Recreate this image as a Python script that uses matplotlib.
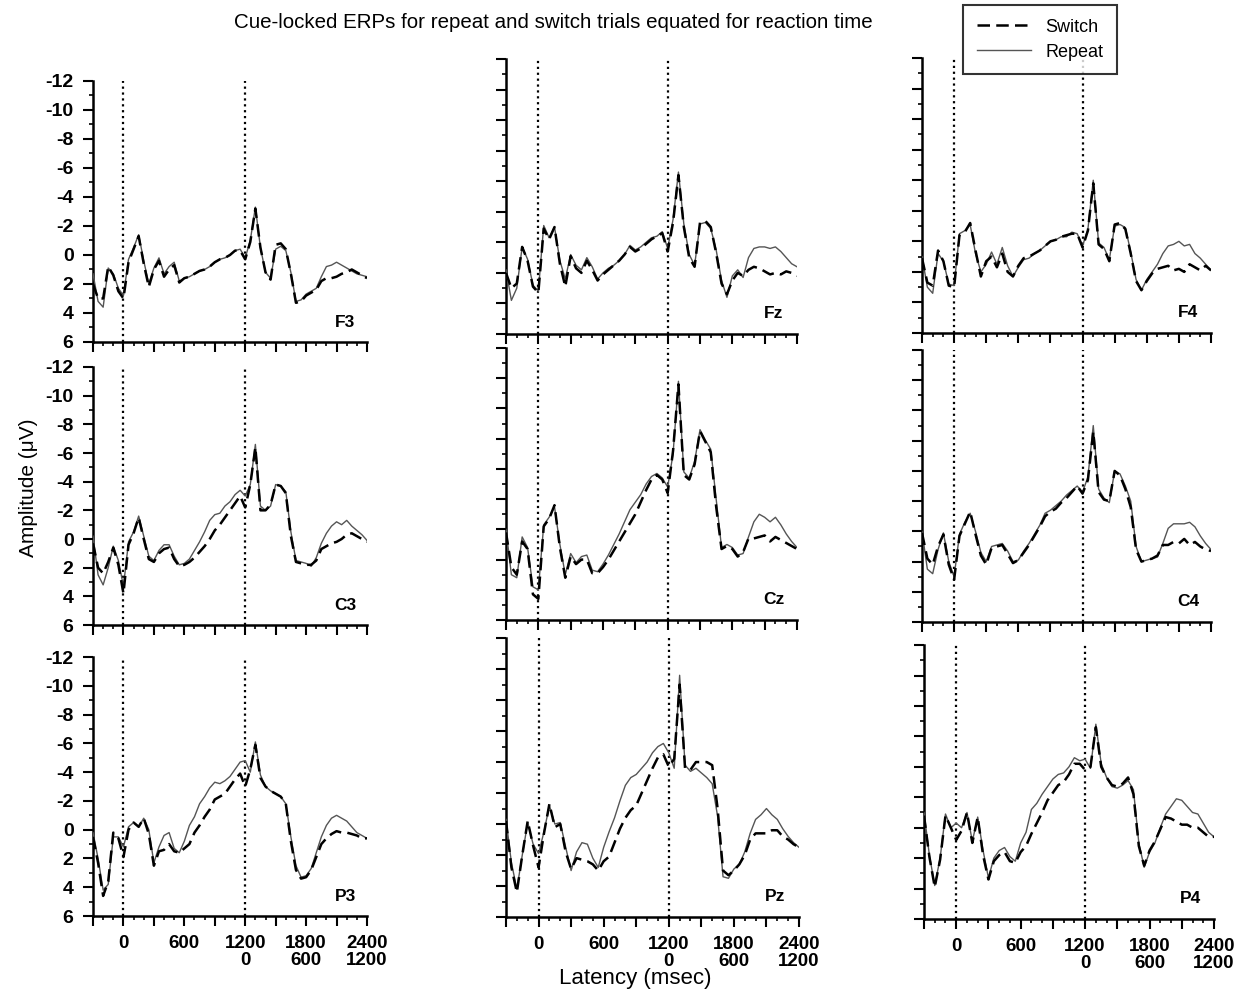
import numpy as np
import matplotlib
matplotlib.use("Agg")
import matplotlib.pyplot as plt
from matplotlib.ticker import FixedLocator, MultipleLocator
from matplotlib.lines import Line2D

plt.rcParams["font.family"] = ["Liberation Sans", "DejaVu Sans"]
plt.rcParams["axes.unicode_minus"] = False

# latency grid (ms), cue at 0, target at 1200
time_ms = list(range(-300, 2401, 50))

# amplitudes in microvolts (negative up)
repeat_F3 = [1.3, 3.2, 3.6, 0.9, 1.3, 2.3, 2.8, 0.3, -0.5, -1.4, 0.4, 2.0, 0.9, 0.2, 1.3, 0.8, 0.5, 1.8, 1.6,
             1.5, 1.3, 1.1, 1.0, 0.8, 0.5, 0.3, 0.2, 0.0, -0.3, -0.4, 0.2, -1.0, -3.3, -0.5, 1.2, 1.6, -0.4, -0.6,
             -0.3, 1.2, 3.2, 3.1, 2.7, 2.5, 2.3, 1.5, 0.8, 0.7, 0.5, 0.7, 0.9, 1.1, 1.3, 1.4, 1.5]
switch_F3 = [2.0, 3.0, 3.0, 0.8, 1.4, 2.5, 3.0, 0.5, -0.4, -1.3, 0.6, 2.2, 1.0, 0.4, 1.5, 1.0, 0.7, 1.9, 1.6,
             1.5, 1.3, 1.1, 1.0, 0.8, 0.5, 0.3, 0.2, 0.0, -0.3, -0.3, 0.3, -0.9, -3.2, -0.5, 1.2, 1.7, -0.7, -0.8,
             -0.4, 1.3, 3.3, 3.2, 2.8, 2.6, 2.4, 1.8, 1.6, 1.6, 1.5, 1.3, 1.2, 1.0, 1.2, 1.4, 1.6]
repeat_Fz = [1.8, 3.8, 3.0, 0.3, 1.1, 2.8, 3.2, -1.1, -0.3, -1.0, 1.2, 2.4, 0.8, 1.5, 1.8, 1.0, 1.6, 2.4, 2.0,
             1.7, 1.5, 1.2, 0.8, 0.2, 0.5, 0.3, 0.0, -0.3, -0.4, -0.7, 0.4, -1.5, -4.6, -1.2, 0.8, 1.5, -1.2, -1.3,
             -0.9, 0.5, 2.5, 3.6, 2.2, 1.8, 2.3, 1.0, 0.4, 0.3, 0.3, 0.4, 0.3, 0.6, 1.0, 1.4, 1.6]
switch_Fz = [2.0, 3.0, 2.7, 0.3, 1.2, 2.9, 3.3, -0.9, -0.2, -1.0, 1.4, 2.9, 0.9, 1.7, 2.0, 1.2, 1.8, 2.5, 2.1,
             1.8, 1.5, 1.2, 0.8, 0.3, 0.6, 0.4, 0.1, -0.2, -0.4, -0.6, 0.6, -1.3, -4.4, -1.0, 1.0, 1.6, -1.3, -1.4,
             -1.0, 0.7, 2.7, 3.4, 2.5, 2.0, 2.2, 1.8, 1.6, 1.7, 1.9, 2.1, 2.0, 2.1, 1.9, 2.0, 2.2]
repeat_F4 = [1.0, 3.0, 3.4, 0.8, 1.3, 2.8, 2.9, -0.5, -0.7, -1.1, 0.8, 2.0, 1.5, 0.7, 1.5, 0.4, 1.6, 2.3, 1.7,
             1.2, 1.1, 0.8, 0.6, 0.3, 0.0, -0.1, -0.3, -0.3, -0.6, -0.5, 0.3, -0.8, -4.0, 0.1, 0.4, 1.2, -1.0, -1.1,
             -0.9, 0.7, 2.5, 3.2, 2.5, 2.0, 1.5, 0.8, 0.3, 0.2, 0.0, 0.3, 0.2, 0.8, 1.1, 1.5, 1.9]
switch_F4 = [1.1, 2.7, 2.9, 0.6, 1.3, 2.9, 3.0, -0.4, -0.6, -1.2, 0.6, 2.3, 1.3, 1.0, 1.7, 0.8, 2.0, 2.3, 1.6,
             1.1, 1.0, 0.8, 0.6, 0.3, 0.0, -0.1, -0.3, -0.4, -0.5, -0.5, 0.4, -0.7, -3.8, 0.2, 0.5, 1.3, -1.1, -1.2,
             -0.8, 0.8, 2.6, 3.2, 2.6, 2.1, 1.8, 1.7, 1.6, 1.9, 1.8, 2.0, 1.5, 1.7, 1.9, 1.6, 1.9]
repeat_C3 = [-0.2, 2.5, 3.2, 2.0, 0.5, 1.5, 3.3, 0.2, -0.5, -1.6, -0.2, 1.2, 1.5, 0.8, 0.4, 0.4, 1.2, 1.8, 1.7,
             1.4, 0.8, 0.2, -0.5, -1.3, -1.7, -1.8, -2.3, -2.6, -3.1, -3.4, -3.0, -3.8, -6.6, -2.3, -2.0, -2.3, -3.8,
             -3.7, -3.3, -0.5, 1.5, 1.6, 1.7, 1.9, 1.3, 0.3, -0.4, -0.9, -1.2, -1.0, -1.3, -0.9, -0.6, -0.3, 0.1]
switch_C3 = [0.3, 2.0, 2.4, 1.6, 0.6, 1.8, 3.8, 0.4, -0.4, -1.5, 0.0, 1.4, 1.6, 1.0, 0.7, 0.6, 1.4, 1.9, 1.8,
             1.6, 1.3, 0.9, 0.5, 0.0, -0.6, -1.0, -1.5, -2.0, -2.5, -3.0, -2.2, -3.8, -6.4, -2.0, -2.0, -2.4, -3.8,
             -3.7, -3.2, -0.2, 1.6, 1.7, 1.8, 1.8, 1.5, 0.7, 0.5, 0.3, 0.2, 0.0, -0.3, -0.4, -0.2, 0.0, 0.2]
repeat_Cz = [0.0, 3.0, 3.2, 0.5, 1.2, 3.8, 4.0, -0.3, -0.8, -1.5, 1.0, 3.0, 1.6, 2.2, 1.8, 1.7, 2.7, 2.8, 2.3,
             1.7, 1.0, 0.3, -0.5, -1.3, -1.8, -2.3, -3.0, -3.5, -3.7, -3.4, -2.8, -5.0, -9.8, -3.8, -3.4, -4.5, -6.6,
             -5.9, -5.3, -2.0, 1.2, 1.0, 1.2, 1.7, 1.6, 0.5, -0.5, -1.0, -0.8, -0.5, -0.8, -0.3, 0.3, 0.8, 1.2]
switch_Cz = [0.2, 2.5, 3.0, 0.8, 1.3, 4.3, 4.6, -0.2, -0.7, -1.6, 1.2, 3.2, 1.8, 2.3, 2.0, 2.0, 2.9, 2.9, 2.5,
             2.0, 1.4, 0.8, 0.2, -0.4, -1.0, -1.8, -2.6, -3.3, -3.6, -3.3, -2.4, -5.2, -9.6, -3.6, -3.3, -4.3, -6.5,
             -5.8, -5.1, -1.5, 1.3, 1.1, 1.3, 1.8, 1.5, 0.6, 0.6, 0.5, 0.4, 0.8, 0.5, 0.7, 0.9, 1.1, 1.3]
repeat_C4 = [0.0, 2.5, 2.8, 1.2, 0.1, 2.0, 3.0, 0.2, -0.6, -1.2, 0.0, 1.4, 2.0, 1.0, 0.9, 0.8, 1.3, 2.0, 1.9,
             1.3, 0.8, 0.2, -0.4, -1.2, -1.4, -1.7, -2.0, -2.4, -2.7, -3.0, -2.6, -3.6, -7.0, -2.8, -2.2, -1.9, -4.0,
             -3.8, -3.0, -2.0, 1.0, 2.0, 1.9, 1.8, 1.7, 0.8, -0.2, -0.5, -0.5, -0.5, -0.6, -0.3, 0.3, 0.8, 1.2]
switch_C4 = [0.1, 1.8, 2.2, 1.0, 0.2, 2.2, 3.2, 0.3, -0.5, -1.3, 0.2, 1.6, 2.2, 1.1, 1.0, 0.9, 1.5, 2.1, 1.9,
             1.4, 0.9, 0.3, -0.3, -1.0, -1.3, -1.5, -1.9, -2.2, -2.6, -3.0, -2.5, -3.4, -6.6, -2.6, -2.1, -2.0, -4.0,
             -3.7, -2.8, -1.6, 1.2, 2.0, 1.9, 1.8, 1.6, 0.9, 0.9, 0.7, 0.8, 0.5, 0.9, 0.7, 1.0, 1.2, 1.3]
repeat_P3 = [0.2, 2.0, 4.2, 3.8, 0.5, 0.5, 1.2, -0.2, -0.5, -0.2, -0.8, 0.0, 2.3, 1.2, 0.4, 0.2, 1.3, 1.6, 0.8,
             -0.3, -0.9, -1.8, -2.3, -2.9, -3.3, -3.2, -3.4, -3.7, -4.2, -4.7, -4.8, -4.0, -6.1, -3.8, -3.0, -2.7,
             -2.5, -2.3, -1.8, 0.5, 2.5, 3.3, 3.2, 2.7, 1.6, 0.5, -0.3, -0.8, -1.0, -0.8, -0.6, -0.2, 0.2, 0.4, 0.6]
switch_P3 = [0.5, 2.3, 4.6, 3.6, 0.2, 0.6, 1.9, 0.0, -0.5, -0.2, -0.8, 0.3, 2.5, 1.5, 1.4, 1.0, 1.5, 1.6, 1.3,
             1.0, 0.2, -0.3, -0.9, -1.4, -2.1, -2.3, -2.5, -3.0, -3.5, -3.9, -3.0, -4.2, -5.9, -3.6, -3.0, -2.7,
             -2.5, -2.3, -1.8, 0.8, 2.8, 3.4, 3.3, 2.8, 1.9, 1.0, 0.6, 0.3, 0.1, 0.2, 0.2, 0.3, 0.4, 0.6, 0.6]
repeat_Pz = [-0.3, 2.5, 4.2, 2.0, -0.1, 1.3, 1.9, 0.5, -1.2, 0.0, -0.1, 1.5, 3.0, 1.8, 1.2, 1.3, 2.2, 2.8, 1.5,
             0.5, -0.4, -1.5, -2.5, -3.0, -3.2, -3.6, -4.0, -4.6, -5.0, -5.2, -4.6, -3.6, -9.6, -3.8, -3.4, -3.6,
             -3.3, -3.0, -2.6, -0.5, 3.4, 3.5, 2.9, 2.6, 1.8, 0.6, -0.3, -0.6, -1.0, -0.6, -0.3, 0.3, 0.8, 1.2, 1.5]
switch_Pz = [-0.2, 2.8, 4.4, 2.0, -0.2, 1.4, 2.8, 0.6, -1.3, 0.2, 0.0, 1.8, 2.9, 2.2, 2.3, 2.4, 2.6, 3.0, 2.4,
             2.1, 1.2, 0.3, -0.4, -0.9, -1.2, -2.0, -2.8, -3.6, -4.3, -4.5, -3.7, -4.2, -9.0, -3.6, -3.5, -4.0,
             -4.0, -4.0, -3.8, -1.0, 3.0, 3.3, 3.0, 2.6, 2.0, 1.0, 0.6, 0.6, 0.6, 0.4, 0.4, 0.8, 1.0, 1.3, 1.5]
repeat_P4 = [-1.0, 1.8, 3.8, 2.0, -0.9, 0.0, -0.3, 0.0, -1.0, 0.9, -0.7, 1.5, 3.3, 2.0, 1.5, 1.3, 1.9, 2.2, 1.0,
             0.3, -1.2, -1.6, -2.2, -2.7, -3.2, -3.5, -3.6, -4.0, -4.6, -4.4, -4.5, -3.9, -6.8, -4.2, -3.3, -2.7,
             -2.6, -2.8, -3.1, -2.5, 1.0, 2.6, 1.6, 1.0, 0.0, -0.9, -1.4, -1.9, -1.8, -1.4, -1.0, -0.9, -0.3, 0.3, 0.6]
switch_P4 = [-0.8, 1.9, 3.9, 2.1, -0.8, 0.0, 0.8, 0.2, -1.0, 1.0, -0.7, 1.8, 3.4, 2.2, 1.8, 1.6, 2.2, 2.3, 1.6,
             1.2, 0.4, -0.3, -1.0, -1.8, -2.3, -2.8, -3.0, -3.5, -4.2, -4.2, -3.8, -4.0, -6.6, -4.0, -3.3, -2.8,
             -2.7, -2.9, -3.3, -2.2, 1.2, 2.5, 1.5, 0.9, 0.1, -0.7, -0.6, -0.4, -0.2, -0.2, 0.0, 0.0, 0.3, 0.6, 0.6]

electrodes = ["F3", "Fz", "F4", "C3", "Cz", "C4", "P3", "Pz", "P4"]
repeat_data = [repeat_F3, repeat_Fz, repeat_F4, repeat_C3, repeat_Cz, repeat_C4, repeat_P3, repeat_Pz, repeat_P4]
switch_data = [switch_F3, switch_Fz, switch_F4, switch_C3, switch_Cz, switch_C4, switch_P3, switch_Pz, switch_P4]

y_ticks = [-12, -10, -8, -6, -4, -2, 0, 2, 4, 6]
x_ticks = [-300, 0, 300, 600, 900, 1200, 1500, 1800, 2100, 2400]
x_labels = ["", "0", "", "600", "", "1200\n0", "", "1800\n600", "", "2400\n1200"]

# panel boxes in figure fractions [left, bottom, width, height]
boxes = [
    [0.0744, 0.657, 0.2192, 0.2618], [0.4048, 0.665, 0.2328, 0.2758], [0.7376, 0.666, 0.2312, 0.2758],
    [0.0744, 0.3731, 0.2192, 0.2588], [0.4048, 0.3781, 0.2328, 0.2728], [0.7376, 0.3761, 0.2312, 0.2728],
    [0.0744, 0.0812, 0.2192, 0.2598], [0.4048, 0.0802, 0.2344, 0.2798], [0.7392, 0.0782, 0.2320, 0.2748],
]

fig = plt.figure(figsize=(12.5, 9.97), dpi=100)

for i, name in enumerate(electrodes):
    ax = fig.add_axes(boxes[i])
    ax.plot(time_ms, repeat_data[i], color="#555555", lw=1.0, zorder=3)
    ax.plot(time_ms, switch_data[i], color="black", lw=1.8, dashes=(5, 2.5), zorder=4)
    ax.axvline(0, color="black", ls=":", lw=1.6, zorder=2)
    ax.axvline(1200, color="black", ls=":", lw=1.6, zorder=2)

    ax.set_xlim(-300, 2400)
    ax.set_ylim(6, -12)
    for s in ["top", "right"]:
        ax.spines[s].set_visible(False)
    for s in ["left", "bottom"]:
        ax.spines[s].set_linewidth(1.8)

    ax.xaxis.set_major_locator(FixedLocator(x_ticks))
    ax.xaxis.set_minor_locator(MultipleLocator(100))
    ax.yaxis.set_major_locator(FixedLocator(y_ticks))
    ax.yaxis.set_minor_locator(MultipleLocator(1))
    ax.tick_params(which="major", direction="out", length=7, width=1.5)
    ax.tick_params(which="minor", direction="out", length=3, width=1.2)

    if i % 3 == 0:
        ax.set_yticklabels([str(v) for v in y_ticks], fontsize=14, fontweight="bold")
        ax.tick_params(axis="y", pad=7)
    else:
        ax.set_yticklabels([])
    if i >= 6:
        ax.set_xticklabels(x_labels, fontsize=13.5, fontweight="bold", linespacing=1.0)
        ax.tick_params(axis="x", pad=7)
    else:
        ax.set_xticklabels([])

    ax.text(0.92, 0.075, name, transform=ax.transAxes, ha="center", va="center",
            fontsize=12.5, fontweight="bold")

fig.text(0.443, 1 - 22 / 997, "Cue-locked ERPs for repeat and switch trials equated for reaction time",
         ha="center", va="center", fontsize=14.8)
fig.text(0.023, 1 - 488 / 997, "Amplitude (\u03bcV)", rotation=90, ha="center", va="center", fontsize=15)
fig.text(635 / 1250, 1 - 978 / 997, "Latency (msec)", ha="center", va="center", fontsize=16)

handles = [Line2D([], [], color="black", lw=1.8, dashes=(5, 2.5)),
           Line2D([], [], color="#555555", lw=1.0)]
leg = fig.legend(handles, ["Switch", "Repeat"], loc="upper left", bbox_to_anchor=(963 / 1250, 1 - 5 / 997),
                 borderaxespad=0, fontsize=13, frameon=True, fancybox=False, handlelength=3.0,
                 borderpad=0.75, labelspacing=0.45, handletextpad=0.8)
leg.get_frame().set_edgecolor("black")
leg.get_frame().set_linewidth(1.5)

fig.savefig("out.png", dpi=100)
